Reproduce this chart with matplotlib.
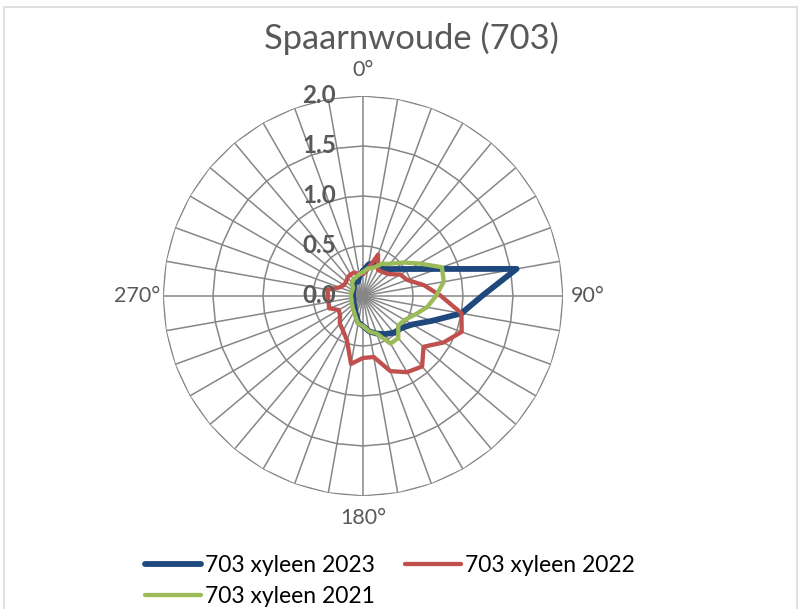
import numpy as np
import matplotlib
matplotlib.use('Agg')
import matplotlib.pyplot as plt
from matplotlib.patches import Rectangle

plt.rcParams['font.family'] = ['Lato', 'DejaVu Sans']

# wind direction sectors (degrees, clockwise from north)
angles = list(range(0, 360, 10))

xyleen_2023 = [0.25, 0.32, 0.35, 0.32, 0.35, 0.42, 0.54, 0.79, 1.56, 1.19,
               1.00, 0.73, 0.57, 0.50, 0.48, 0.44, 0.40, 0.36, 0.30, 0.27,
               0.20, 0.16, 0.13, 0.12, 0.11, 0.10, 0.10, 0.10, 0.10, 0.11,
               0.11, 0.12, 0.14, 0.18, 0.15, 0.20]
xyleen_2022 = [0.22, 0.27, 0.44, 0.30, 0.31, 0.34, 0.43, 0.47, 0.62, 0.78,
               1.00, 1.05, 0.93, 0.79, 0.92, 0.88, 0.80, 0.62, 0.62, 0.69,
               0.47, 0.40, 0.36, 0.30, 0.28, 0.36, 0.35, 0.35, 0.36, 0.25,
               0.22, 0.22, 0.24, 0.25, 0.25, 0.22]
xyleen_2021 = [0.24, 0.28, 0.30, 0.37, 0.42, 0.52, 0.65, 0.84, 0.82, 0.73,
               0.65, 0.55, 0.48, 0.46, 0.55, 0.55, 0.40, 0.36, 0.30, 0.28,
               0.22, 0.18, 0.16, 0.14, 0.13, 0.12, 0.12, 0.12, 0.12, 0.12,
               0.12, 0.13, 0.17, 0.19, 0.20, 0.22]

ring_values = [0.5, 1.0, 1.5, 2.0]
ring_labels = ['0.0', '0.5', '1.0', '1.5', '2.0']
dir_labels = {0: '0°', 90: '90°', 180: '180°', 270: '270°'}

grid_col = '#868686'
text_col = '#595959'

fig = plt.figure(figsize=(8, 6.09), dpi=100)
ax = fig.add_axes([0.20375, 0.1856, 0.5, 0.6568], projection='polar')
ax.set_theta_zero_location('N')
ax.set_theta_direction(-1)
ax.set_ylim(0, 2.0)
ax.grid(False)
ax.spines['polar'].set_visible(False)
ax.set_xticks([])
ax.set_yticks([])
ax.patch.set_alpha(0)

th = np.deg2rad(angles)
th_closed = np.append(th, th[0])

# polygon rings and spokes
for rv in ring_values:
    ax.plot(th_closed, [rv] * len(th_closed), color=grid_col, lw=1.1, zorder=1)
for t in th:
    ax.plot([t, t], [0, 2.0], color=grid_col, lw=1.1, zorder=1)

def closed(v):
    return np.append(v, v[0])

ax.plot(th_closed, closed(xyleen_2023), color='#1F497D', lw=4.2,
        solid_joinstyle='round', solid_capstyle='round', zorder=3, label='703 xyleen 2023')
ax.plot(th_closed, closed(xyleen_2022), color='#C0504D', lw=3.1,
        solid_joinstyle='round', solid_capstyle='round', zorder=4, label='703 xyleen 2022')
ax.plot(th_closed, closed(xyleen_2021), color='#9BBB59', lw=3.1,
        solid_joinstyle='round', solid_capstyle='round', zorder=5, label='703 xyleen 2021')

# radial value labels
for i, lab in enumerate(ring_labels):
    ax.annotate(lab, xy=(0, i * 0.5), xytext=(-27, 0), textcoords='offset pixels',
                ha='right', va='center', fontsize=17.5, fontweight='bold',
                color=text_col, zorder=6, annotation_clip=False)

# direction labels
offs = {0: (0, 26), 90: (8, 0), 180: (0, -22), 270: (-3, 0)}
has = {0: 'center', 90: 'left', 180: 'center', 270: 'right'}
for a, lab in dir_labels.items():
    ax.annotate(lab, xy=(np.deg2rad(a), 2.0), xytext=offs[a], textcoords='offset pixels',
                ha=has[a], va='center', fontsize=15.5, color=text_col,
                annotation_clip=False)

fig.text(0.514, 0.937, 'Spaarnwoude (703)', ha='center', va='center',
         fontsize=24.8, color=text_col)

h, l = ax.get_legend_handles_labels()
order = [0, 2, 1]
fig.legend([h[i] for i in order], [l[i] for i in order], ncol=2,
           loc='center left', bbox_to_anchor=(0.181, 0.046), frameon=False,
           fontsize=16.5, handlelength=2.45, handletextpad=0.17,
           columnspacing=1.3, labelspacing=0.45, borderpad=0, borderaxespad=0)

fig.add_artist(Rectangle((4 / 800, -0.05), 793 / 800, 1.05 - 7 / 609,
                         transform=fig.transFigure, fill=False,
                         edgecolor='#D9D9D9', lw=1.2))

fig.savefig('out.png', dpi=100)
